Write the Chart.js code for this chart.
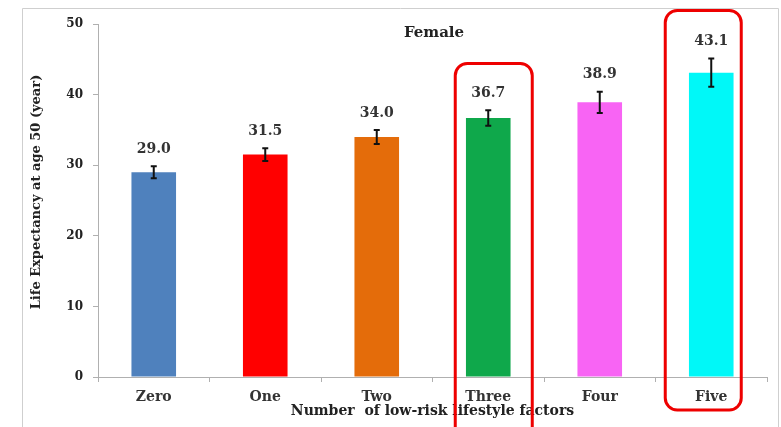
<!DOCTYPE html>
<html>
<head>
<meta charset="utf-8">
<script src="https://cdn.jsdelivr.net/npm/chart.js@4"></script>
<style>
  html, body { margin: 0; padding: 0; background: #fff; }
  #wrap { width: 781px; height: 427px; position: relative; }
</style>
</head>
<body>
<div id="wrap"><canvas id="c" width="781" height="427"></canvas></div>
<script>
// Life expectancy at age 50 by number of low-risk lifestyle factors (female)
const categories = ['Zero', 'One', 'Two', 'Three', 'Four', 'Five'];
const lifeExpectancy = [29.0, 31.5, 34.0, 36.7, 38.9, 43.1];
const errorMargin = [0.85, 0.9, 1.0, 1.1, 1.5, 2.0];
const barColors = ['#4f81bd', '#ff0000', '#e46c0a', '#0fa84b', '#f864f4', '#00f8f8'];
const yTicks = [0, 10, 20, 30, 40, 50];
const highlighted = ['Three', 'Five'];

const serif = '"DejaVu Serif", "Liberation Serif", serif';

// Error bars, value labels, titles and highlight frames
const overlay = {
  id: 'overlay',
  beforeDraw(chart) {
    const ctx = chart.ctx;
    ctx.save();
    ctx.strokeStyle = '#cfcfcf';
    ctx.lineWidth = 1;
    ctx.beginPath();
    ctx.moveTo(22.5, 440);
    ctx.lineTo(22.5, 8.5);
    ctx.lineTo(778.5, 8.5);
    ctx.lineTo(778.5, 440);
    ctx.stroke();
    ctx.restore();
  },
  afterDatasetsDraw(chart) {
    const ctx = chart.ctx;
    const x = chart.scales.x, y = chart.scales.y;
    ctx.save();
    lifeExpectancy.forEach((v, i) => {
      const cx = x.getPixelForValue(i);
      const yt = y.getPixelForValue(v + errorMargin[i]);
      const yb = y.getPixelForValue(v - errorMargin[i]);
      ctx.strokeStyle = '#111';
      ctx.lineWidth = 2;
      ctx.beginPath();
      ctx.moveTo(cx, yt); ctx.lineTo(cx, yb);
      ctx.moveTo(cx - 3, yt); ctx.lineTo(cx + 3, yt);
      ctx.moveTo(cx - 3, yb); ctx.lineTo(cx + 3, yb);
      ctx.stroke();
      ctx.fillStyle = '#333';
      ctx.font = 'bold 14px ' + serif;
      ctx.textAlign = 'center';
      ctx.textBaseline = 'middle';
      ctx.fillText(v.toFixed(1), cx, yt - 17);
    });

    ctx.fillStyle = '#222';
    ctx.font = 'bold 15px ' + serif;
    ctx.textAlign = 'center';
    ctx.textBaseline = 'middle';
    ctx.fillText('Female', 434, 33);

    // Vertical axis title
    ctx.save();
    ctx.translate(37, 192);
    ctx.rotate(-Math.PI / 2);
    ctx.font = 'bold 13px ' + serif;
    ctx.fillText('Life Expectancy at age 50 (year)', 0, 0);
    ctx.restore();

    // Rounded red frames around highlighted groups
    const frames = {
      Three: { dl: -33, dr: 44, top: 63.5, bottom: 445 },
      Five: { dl: -46, dr: 30, top: 10.5, bottom: 410 }
    };
    ctx.strokeStyle = '#ee0000';
    ctx.lineWidth = 3;
    highlighted.forEach(name => {
      const f = frames[name];
      const cx = x.getPixelForValue(categories.indexOf(name));
      ctx.beginPath();
      ctx.roundRect(cx + f.dl, f.top, f.dr - f.dl, f.bottom - f.top, 12);
      ctx.stroke();
    });
    ctx.restore();
  }
};

new Chart(document.getElementById('c'), {
  type: 'bar',
  data: {
    labels: categories,
    datasets: [{
      data: lifeExpectancy,
      backgroundColor: barColors,
      borderWidth: 0,
      barPercentage: 0.4,
      categoryPercentage: 1.0
    }]
  },
  options: {
    responsive: false,
    animation: false,
    layout: { padding: { top: 24, right: 14, bottom: 0, left: 0 } },
    plugins: { legend: { display: false }, tooltip: { enabled: false } },
    scales: {
      x: {
        afterFit(s) { s.height = 50; },
        grid: { display: true, drawOnChartArea: false, tickLength: 5, color: '#b0b0b0' },
        border: { color: '#b0b0b0' },
        ticks: { padding: 7, color: '#333', font: { family: serif, size: 14, weight: 'bold' } },
        title: {
          display: true,
          text: 'Number  of low-risk lifestyle factors',
          color: '#222',
          font: { family: serif, size: 14, weight: 'bold' },
          padding: { top: 0, bottom: 7 }
        }
      },
      y: {
        min: 0, max: 50,
        afterFit(s) { s.width = 98; },
        afterBuildTicks(s) { s.ticks = yTicks.map(v => ({ value: v })); },
        grid: { display: true, drawOnChartArea: false, tickLength: 5, color: '#b0b0b0' },
        border: { color: '#b0b0b0' },
        ticks: { padding: 10, color: '#222', font: { family: serif, size: 12, weight: 'bold' } }
      }
    }
  },
  plugins: [overlay]
});
</script>
</body>
</html>
